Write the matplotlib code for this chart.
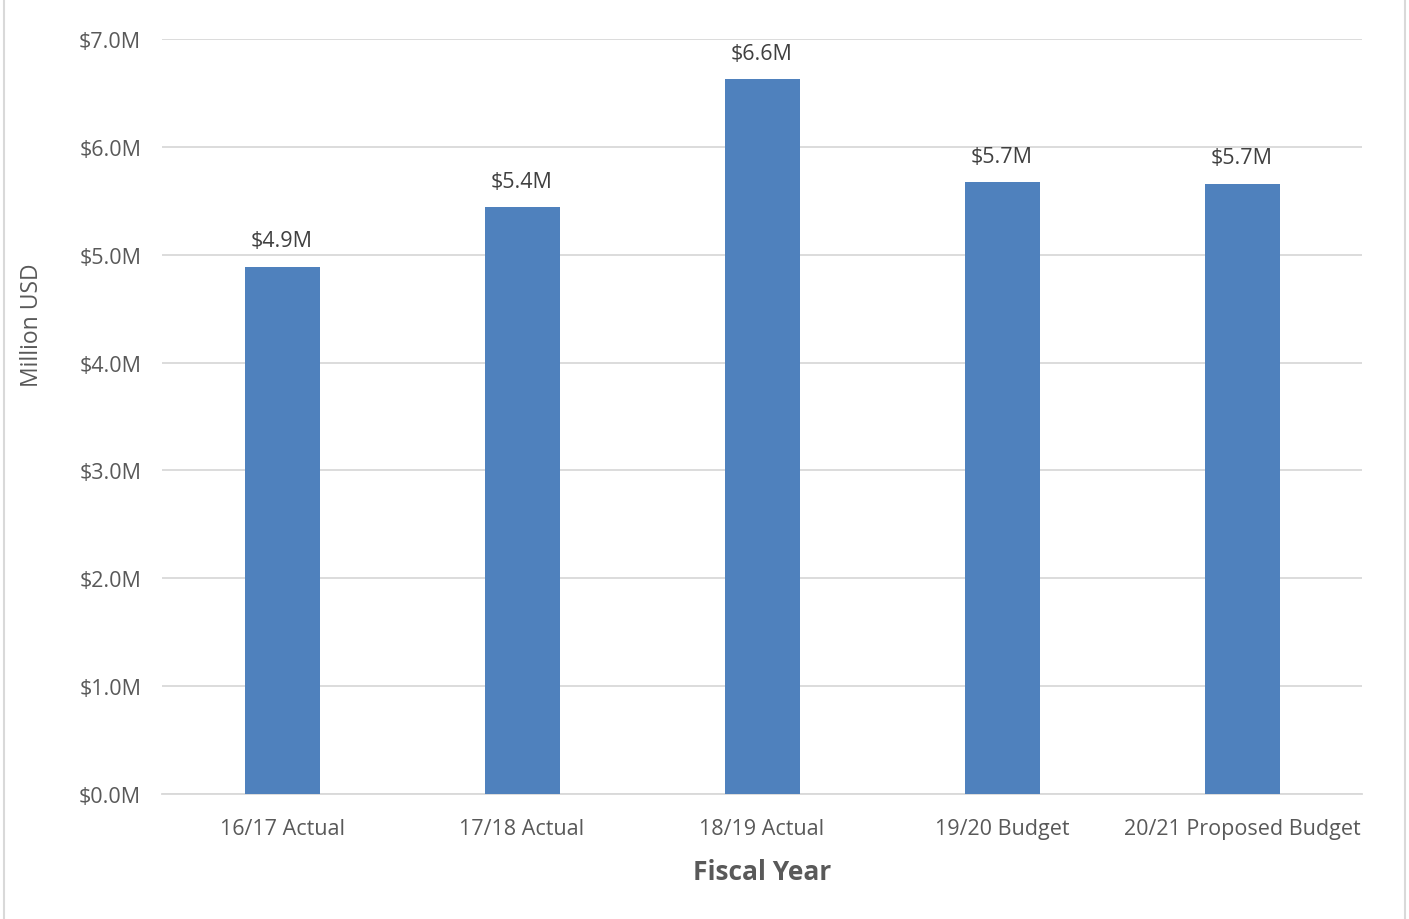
import matplotlib.pyplot as plt
from matplotlib.lines import Line2D

plt.rcParams['font.family'] = ['Open Sans', 'DejaVu Sans']

categories = ['16/17 Actual', '17/18 Actual', '18/19 Actual', '19/20 Budget', '20/21 Proposed Budget']
values = [4.89, 5.44, 6.63, 5.67, 5.66]
labels = ['$4.9M', '$5.4M', '$6.6M', '$5.7M', '$5.7M']
yticks = [0, 1, 2, 3, 4, 5, 6, 7]

fig = plt.figure(figsize=(14.09, 9.2), dpi=100)
ax = fig.add_axes([0.115, 0.1359, 0.8517, 0.8206])

x = range(len(categories))
bars = ax.bar(x, values, width=0.3125, color='#4F81BD', zorder=3)

for b, lab in zip(bars, labels):
    ax.text(b.get_x() + b.get_width() / 2, b.get_height() + 0.14, lab,
            ha='center', va='bottom', fontsize=15.5, color='#404040')

ax.set_ylim(0, 7)
ax.set_xlim(-0.5, len(categories) - 0.5)
ax.set_yticks(yticks)
ax.set_yticklabels([f'${t:.1f}M' for t in yticks])
ax.set_xticks(list(x))
ax.set_xticklabels(categories)
ax.tick_params(axis='both', length=0, labelsize=15.5, labelcolor='#595959')
ax.tick_params(axis='y', pad=15)
ax.tick_params(axis='x', pad=17)

ax.grid(axis='y', color='#D9D9D9', linewidth=1.3, zorder=0)
for s in ['top', 'right', 'left']:
    ax.spines[s].set_visible(False)
ax.spines['bottom'].set_color('#D9D9D9')
ax.spines['bottom'].set_linewidth(1.3)

ax.set_xlabel('Fiscal Year', fontsize=19, fontweight='bold', color='#595959', labelpad=14)
fig.text(0.023, 0.646, 'Million USD', rotation=90, fontsize=16.5, color='#595959',
         ha='center', va='center')

# light frame at the left and right edges of the image
fig.add_artist(Line2D([0.0025, 0.0025], [0, 1], color='#D9D9D9', linewidth=1.5, transform=fig.transFigure))
fig.add_artist(Line2D([0.9975, 0.9975], [0, 1], color='#D9D9D9', linewidth=1.5, transform=fig.transFigure))

fig.savefig('out.png', dpi=100)
